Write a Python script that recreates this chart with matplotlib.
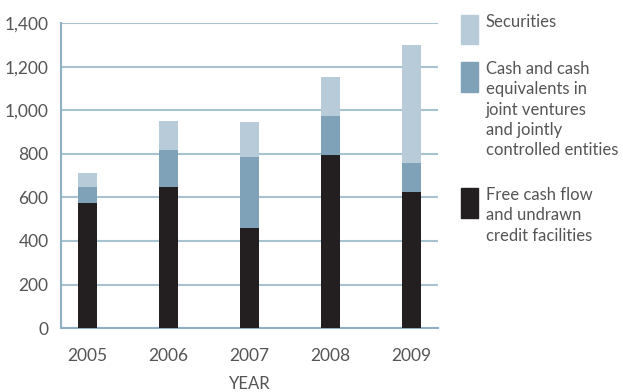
import matplotlib.pyplot as plt
from matplotlib.patches import Rectangle

# data
years = ['2005', '2006', '2007', '2008', '2009']
free_cash = [575, 650, 460, 795, 625]
cash_jv = [75, 167, 325, 178, 132]
securities = [60, 133, 160, 179, 543]

labels = ['Securities',
          'Cash and cash\nequivalents in\njoint ventures\nand jointly\ncontrolled entities',
          'Free cash flow\nand undrawn\ncredit facilities']
colors = ['#b8cbd8', '#7fa2b8', '#231f20']
txt = '#555556'

plt.rcParams['font.family'] = ['Lato', 'DejaVu Sans']

fig = plt.figure(figsize=(6.23, 3.92), dpi=100)
ax = fig.add_axes([0.098, 0.163, 0.605, 0.778])

x = range(len(years))
w = 0.235
ax.bar(x, free_cash, w, color=colors[2], zorder=3)
ax.bar(x, cash_jv, w, bottom=free_cash, color=colors[1], zorder=3)
b3 = [a + b for a, b in zip(free_cash, cash_jv)]
ax.bar(x, securities, w, bottom=b3, color=colors[0], zorder=3)

ax.set_xlim(-0.327, 4.327)
ax.set_ylim(0, 1400)
ax.set_yticks(range(0, 1401, 200))
ax.set_yticklabels([f'{v:,}' for v in range(0, 1401, 200)])
ax.set_xticks(list(x))
ax.set_xticklabels(years)
ax.grid(axis='y', color='#a9c2d2', linewidth=1.5, zorder=0)
ax.tick_params(length=0, labelsize=12.5, labelcolor=txt)
ax.tick_params(axis='x', pad=14)
ax.tick_params(axis='y', pad=9)
for s in ['top', 'right']:
    ax.spines[s].set_visible(False)
for s in ['left', 'bottom']:
    ax.spines[s].set_color('#8fafc4')
    ax.spines[s].set_linewidth(1.5)
ax.set_xlabel('YEAR', fontsize=12, color=txt, labelpad=9)

# legend drawn by hand on the figure
W, H = 623, 392
rows = [(15, 44), (62, 92), (188, 218)]
text_tops = [14, 61, 187]
for c, (y0, y1), lab, ty in zip(colors, rows, labels, text_tops):
    fig.patches.append(Rectangle((461 / W, 1 - y1 / H), 17 / W, (y1 - y0) / H,
                                 transform=fig.transFigure, color=c))
    fig.text(486 / W, 1 - ty / H, lab, fontsize=12, color=txt,
             va='top', ha='left', linespacing=1.33)

fig.savefig('out.png', dpi=100)
